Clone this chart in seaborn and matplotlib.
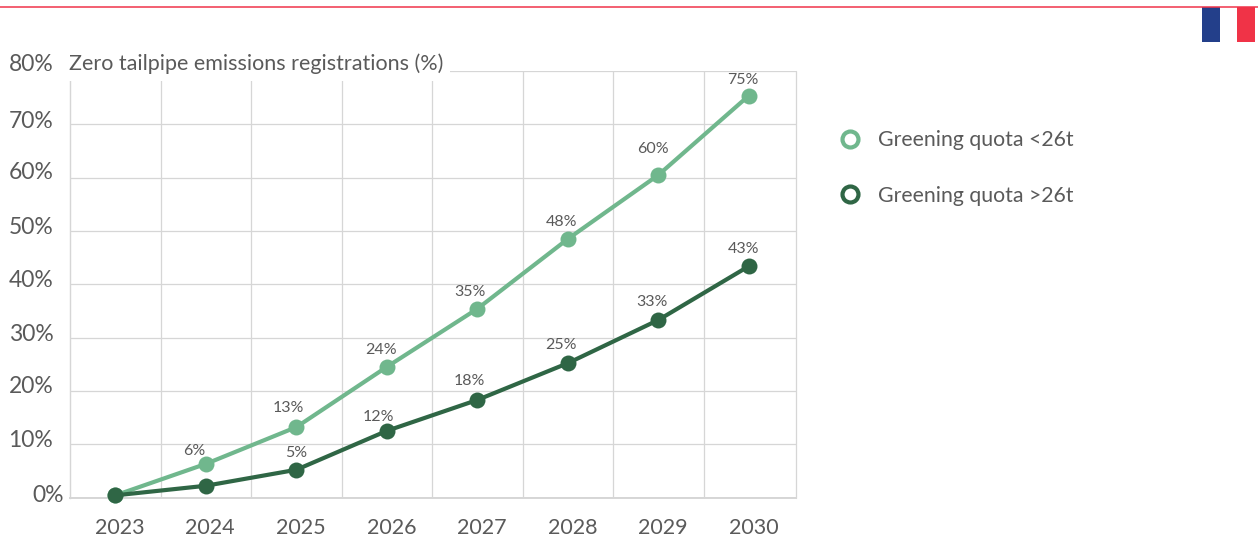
import matplotlib
matplotlib.use("Agg")
import matplotlib.pyplot as plt
import seaborn as sns
import pandas as pd
from matplotlib.lines import Line2D
from matplotlib.patches import Rectangle
from matplotlib.transforms import ScaledTranslation

years = ["2023", "2024", "2025", "2026", "2027", "2028", "2029", "2030"]
light_name = "Greening quota <26t"
dark_name = "Greening quota >26t"
light_values = [0.4, 6.3, 13.2, 24.5, 35.4, 48.5, 60.5, 75.4]
dark_values = [0.4, 2.2, 5.2, 12.5, 18.3, 25.2, 33.3, 43.4]
light_labels = [None, "6%", "13%", "24%", "35%", "48%", "60%", "75%"]
dark_labels = [None, None, "5%", "12%", "18%", "25%", "33%", "43%"]
y_ticks = [0, 10, 20, 30, 40, 50, 60, 70, 80]
y_tick_labels = ["0%", "10%", "20%", "30%", "40%", "50%", "60%", "70%", "80%"]
y_title = "Zero tailpipe emissions registrations (%)"

LIGHT = "#70B78D"
DARK = "#2F6645"
GRID = "#D6D6D6"
TEXT = "#5A5A5A"
W, H = 1258, 540

sns.set_theme(style="white")
plt.rcParams["font.family"] = ["Lato", "DejaVu Sans"]

df = pd.DataFrame({
    "year": years * 2,
    "value": light_values + dark_values,
    "series": [light_name] * len(years) + [dark_name] * len(years),
})

fig = plt.figure(figsize=(W / 100, H / 100), dpi=100, facecolor="white")
ax = fig.add_axes([70 / W, 1 - 497.5 / H, 726 / W, 426.5 / H])
sns.lineplot(data=df, x="year", y="value", hue="series", palette={light_name: LIGHT, dark_name: DARK},
             marker="o", markersize=11.5, markeredgewidth=0, linewidth=3, legend=False, ax=ax,
             errorbar=None, clip_on=False, zorder=3)
ax.set_xlim(-0.5, 7.52)
ax.set_ylim(0, 80)
ax.set_xlabel("")
ax.set_ylabel("")
ax.set_yticks(y_ticks)
ax.set_yticklabels(y_tick_labels, fontsize=16.5, color=TEXT)
ax.tick_params(axis="both", length=0)
ax.tick_params(axis="y", pad=12)
ax.tick_params(axis="x", pad=15)
for t in ax.get_xticklabels():
    t.set_fontsize(15.5)
    t.set_color(TEXT)
    t.set_transform(t.get_transform() + ScaledTranslation(4.5 / 100, 0, fig.dpi_scale_trans))
y_label_lift = [4, 6, 6, 5, 6, 5, 7, 5, 8]
for t, tick, lift in zip(ax.get_yticklabels(), y_ticks, y_label_lift):
    dx = 11 if tick == 0 else 0
    t.set_transform(t.get_transform() + ScaledTranslation(dx / 100, lift / 100, fig.dpi_scale_trans))

ax.grid(True, axis="y", color=GRID, linewidth=0.9)
ax.set_xticks([i + 0.5 for i in range(7)], minor=True)
ax.tick_params(axis="x", which="minor", length=0)
ax.grid(True, axis="x", which="minor", color=GRID, linewidth=0.9)
ax.set_axisbelow(True)
for name in ("top", "right"):
    ax.spines[name].set_visible(False)
for name in ("left", "bottom"):
    ax.spines[name].set_color(GRID)
    ax.spines[name].set_linewidth(1.0)
ax.spines["bottom"].set_linewidth(1.4)
ax.axvline(7.52, color=GRID, linewidth=0.9, clip_on=False)

light_off = [None, (-12, 13), (-8, 19), (-6, 17), (-7, 17), (-6, 17), (-5, 26), (-6, 16)]
dark_off = [None, None, (0, 17), (-8, 14), (-8, 19), (-7, 18), (-6, 18), (-5, 17)]
for labels, values, offs in ((light_labels, light_values, light_off), (dark_labels, dark_values, dark_off)):
    for i, (lab, val, off) in enumerate(zip(labels, values, offs)):
        if lab is None:
            continue
        ax.annotate(lab, (i, val), xytext=(off[0] * 0.72, off[1] * 0.72), textcoords="offset points",
                    ha="center", va="center", fontsize=11.5, color=TEXT, zorder=5)

fig.text(69 / W, 1 - 64 / H, y_title, ha="left", va="center", fontsize=15.5, color=TEXT,
         bbox=dict(facecolor="white", edgecolor="none", pad=5), zorder=4)

handles = [
    Line2D([], [], linestyle="none", marker="o", markersize=11.5, markerfacecolor="white",
           markeredgecolor=LIGHT, markeredgewidth=3, label=light_name),
    Line2D([], [], linestyle="none", marker="o", markersize=11.5, markerfacecolor="white",
           markeredgecolor=DARK, markeredgewidth=3, label=dark_name),
]
leg = fig.legend(handles=handles, loc="upper left", bbox_to_anchor=(832 / W, 1 - 130.5 / H), frameon=False,
                 fontsize=15.3, labelspacing=1.66, handletextpad=0.48, borderpad=0, borderaxespad=0,
                 handlelength=1.7)
for t in leg.get_texts():
    t.set_color(TEXT)

fig.add_artist(Line2D([0, 1], [1 - 6.5 / H] * 2, color="#F0344A", linewidth=1.1, transform=fig.transFigure))
for x0, color in ((1202, "#233F8A"), (1220, "#FFFFFF"), (1237, "#F03347")):
    fig.add_artist(Rectangle((x0 / W, 1 - 42 / H), 18 / W, 35 / H, transform=fig.transFigure,
                             facecolor=color, edgecolor="none"))

fig.savefig("out.png", dpi=100, facecolor="white")
